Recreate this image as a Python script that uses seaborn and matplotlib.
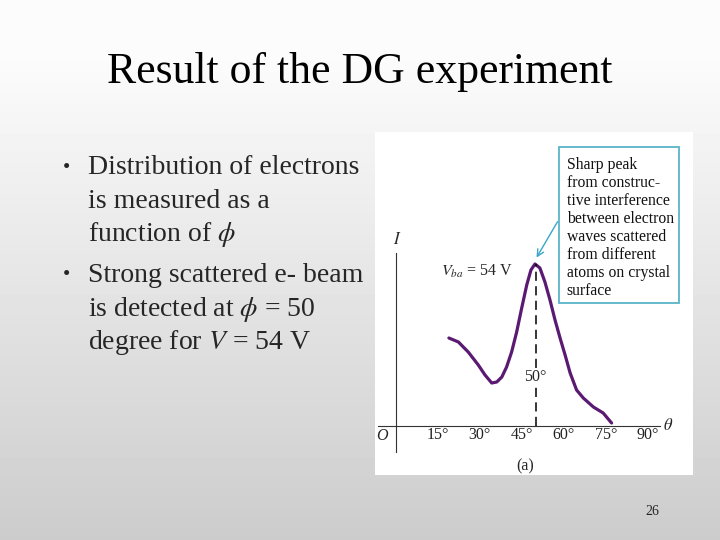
import numpy as np
import matplotlib
matplotlib.use("Agg")
import matplotlib.pyplot as plt
import matplotlib.patches as patches
import seaborn as sns

# curve: scattering angle (deg) vs intensity (arbitrary units)
angle_deg = [19.0, 22.4, 25.9, 29.5, 31.9, 34.3, 36.1, 37.9, 39.6, 41.4, 43.2, 45.0,
             46.8, 48.3, 49.75, 51.5, 53.3, 55.1, 56.9, 58.7, 60.5, 62.3, 64.6, 67.0,
             70.6, 74.1, 77.1]
intensity = [88, 84, 74, 61, 51, 43, 44, 49, 59, 74, 94, 118,
             141, 156, 162, 158, 144, 126, 106, 88, 71, 53, 36, 28,
             19, 13, 3]

tick_angles = [15, 30, 45, 60, 75, 90]
tick_labels = ["15°", "30°", "45°", "60°", "75°", "90°"]
peak_angle = 50
peak_value = 162

title = "Result of the DG experiment"
bullet_1 = ["Distribution of electrons", "is measured as a", r"function of $\phi$"]
bullet_2 = ["Strong scattered e- beam", r"is detected at $\phi$ = 50", r"degree for $V$ = 54 V"]
callout_lines = ["Sharp peak", "from construc-", "tive interference", "between electron",
                 "waves scattered", "from different", "atoms on crystal", "surface"]

sns.set_style("white")
plt.rcParams["font.family"] = ["Liberation Serif", "DejaVu Serif"]
plt.rcParams["mathtext.fontset"] = "stix"

W, H = 720, 540
fig = plt.figure(figsize=(7.2, 5.4), dpi=100)

# slide background: soft vertical grey gradient
bg = fig.add_axes([0, 0, 1, 1], zorder=-5)
shade = np.concatenate([np.full(60, 0.985), np.linspace(0.985, 0.80, 480)])
bg.imshow(shade[:, None], cmap="gray", vmin=0, vmax=1, aspect="auto", extent=[0, 1, 0, 1])
bg.axis("off")

def fx(x):
    return x / W

def fy(y):
    return 1 - y / H

fig.text(fx(359.5), fy(83), title, ha="center", va="baseline", fontsize=31.5, color="black")

y_lines = [174.5, 207.5, 241, 282, 316, 349]
for i, line in enumerate(bullet_1 + bullet_2):
    fig.text(fx(88), fy(y_lines[i]), line, ha="left", va="baseline", fontsize=20)
for yb in [y_lines[0], y_lines[3]]:
    fig.text(fx(66), fy(yb - 2), "•", ha="center", va="baseline", fontsize=15)

fig.text(fx(652), fy(515), "26", ha="center", va="baseline", fontsize=10)

# chart panel; 1 deg = 2.8 px, 1 unit of intensity = 1 px
x0, yax = 395.7, 426
ax = fig.add_axes([fx(375), fy(475), 318 / W, 343 / H])
ax.set_facecolor("white")
ax.set_xlim((375 - x0) / 2.8, (693 - x0) / 2.8)
ax.set_ylim(yax - 475, yax - 132)

sns.lineplot(x=angle_deg, y=intensity, ax=ax, color="#5b1a72", linewidth=2.3)
ax.vlines(peak_angle, 0, peak_value, colors="black", linewidth=1.1, linestyles=(0, (6, 3.5)))

for side in ["top", "right"]:
    ax.spines[side].set_visible(False)
ax.spines["bottom"].set_position(("data", 0))
ax.spines["left"].set_position(("data", 0))
ax.spines["bottom"].set_bounds(-6.2, 94.4)
ax.spines["left"].set_bounds(-25.7, 173)
for side in ["bottom", "left"]:
    ax.spines[side].set_color("#333333")
    ax.spines[side].set_linewidth(0.8)

ax.set_yticks([])
ax.set_xticks(tick_angles)
ax.set_xticklabels(tick_labels, fontsize=11.5, color="#222222")
ax.tick_params(axis="x", direction="in", length=6.5, width=0.8, color="#333333", pad=1)
ax.set_xlabel("")
ax.set_ylabel("")

ax.text(-4.9, -14, "O", ha="center", va="baseline", fontsize=11.5, fontstyle="italic")
ax.text(97.3, 0, r"$\theta$", ha="center", va="center", fontsize=12)
ax.text(0.4, 186, r"$I$", ha="center", va="center", fontsize=12)
ax.text(46.2, -40.7, "(a)", ha="center", va="center", fontsize=11.5)
ax.text(42, 150, r"$V_{ba}$ = 54 V", ha="right", va="baseline", fontsize=11.5)
ax.text(49.8, 45, "50°", ha="center", va="baseline", fontsize=11.5,
        bbox=dict(facecolor="white", edgecolor="none", pad=0.6))

# callout box with arrow to the peak
ax.add_patch(patches.Rectangle((58.4, 123.3), 42.8, 156, fill=False,
                               edgecolor="#5ab4c8", linewidth=1.3))
for i, line in enumerate(callout_lines):
    ax.text(61.1, 256.7 - 18 * i, line, ha="left", va="baseline", fontsize=11.3, color="#111111")
ax.annotate("", xy=(49.8, 166), xytext=(58.3, 206.7),
            arrowprops=dict(arrowstyle="->", color="#3aa6c8", lw=1.0, mutation_scale=12))

fig.savefig("out.png", dpi=100)
